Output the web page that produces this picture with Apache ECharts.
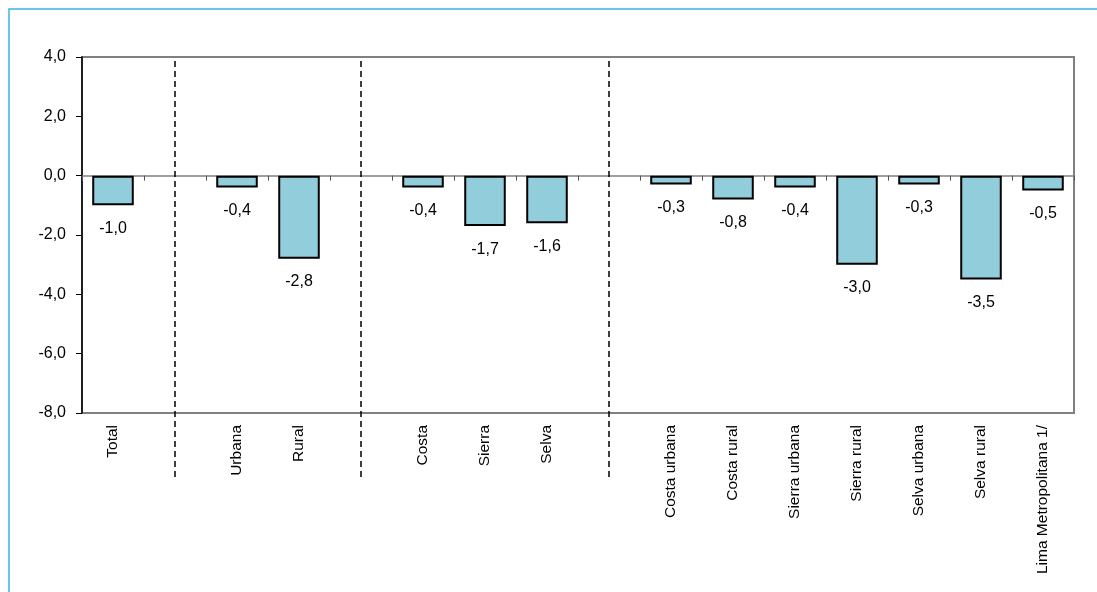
<!DOCTYPE html>
<html><head><meta charset="utf-8">
<script src="https://cdn.jsdelivr.net/npm/echarts@6/dist/echarts.min.js"></script>
<style>html,body{margin:0;padding:0;background:#fff}#c{width:1097px;height:592px}</style>
</head><body><div id="c"></div>
<script>
const categories = ['Total',' ','Urbana','Rural','  ','Costa','Sierra','Selva','   ','Costa urbana','Costa rural','Sierra urbana','Sierra rural','Selva urbana','Selva rural','Lima Metropolitana 1/'];
const values = [-1.0, null, -0.4, -2.8, null, -0.4, -1.7, -1.6, null, -0.3, -0.8, -0.4, -3.0, -0.3, -3.5, -0.5];
const yMin = -8, yMax = 4, yStep = 2;

const fmt = v => Number(v).toFixed(1).replace('.', ',');
const catFont = "'Liberation Sans Narrow', 'Liberation Sans', Arial, sans-serif";
const numFont = "'Liberation Sans', Arial, sans-serif";

const chart = echarts.init(document.getElementById('c'), null, {renderer: 'canvas'});
const option = {
  animation: false,
  backgroundColor: '#fff',
  grid: {left: 82, top: 57, right: 23, bottom: 179, show: true, borderColor: '#808080', borderWidth: 2, containLabel: false},
  xAxis: [
    {type: 'category', data: categories, position: 'bottom',
     axisLine: {show: false, onZero: false}, axisTick: {show: false},
     axisLabel: {interval: 0, rotate: 90, margin: 12, fontFamily: catFont, fontSize: 15.5, color: '#000'}},
    {type: 'category', data: categories, position: 'top',
     axisLine: {show: true, onZero: true, lineStyle: {color: '#808080', width: 1.5}},
     axisTick: {show: true, inside: true, length: 5, interval: 0, lineStyle: {color: '#555', width: 1}},
     axisLabel: {show: false}}
  ],
  yAxis: {type: 'value', min: yMin, max: yMax, interval: yStep,
    axisLine: {show: true, lineStyle: {color: '#000', width: 1.5}},
    axisTick: {show: true, length: 6, lineStyle: {color: '#000', width: 1}},
    splitLine: {show: false},
    axisLabel: {formatter: fmt, margin: 16, fontSize: 16, fontFamily: numFont, color: '#000'}},
  series: [{
    type: 'bar', xAxisIndex: 0, data: values, barWidth: '67%',
    itemStyle: {color: '#92CDDC', borderColor: '#000', borderWidth: 2},
    label: {show: true, position: 'outside', distance: 15, formatter: p => fmt(p.value), fontSize: 16, fontFamily: numFont, color: '#000'}
  }]
};
chart.setOption(option);

const yTop = chart.convertToPixel({yAxisIndex: 0}, yMax);
const yBot = chart.convertToPixel({yAxisIndex: 0}, yMin);
const sepLines = categories.map((c, i) => c.trim() === '' ? i : -1).filter(i => i >= 0).map(i => {
  const x = chart.convertToPixel({xAxisIndex: 0}, i);
  return {type: 'line', silent: true, z: 100,
    shape: {x1: x, y1: yTop + 4, x2: x, y2: yBot + 67},
    style: {stroke: '#000', lineWidth: 1.5, lineDash: [6, 4]}};
});
chart.setOption({graphic: [
  {type: 'rect', silent: true, z: 100, shape: {x: 9, y: 9, width: 2000, height: 2000}, style: {fill: 'none', stroke: '#3db0e6', lineWidth: 1.5}}
].concat(sepLines)});
</script></body></html>
